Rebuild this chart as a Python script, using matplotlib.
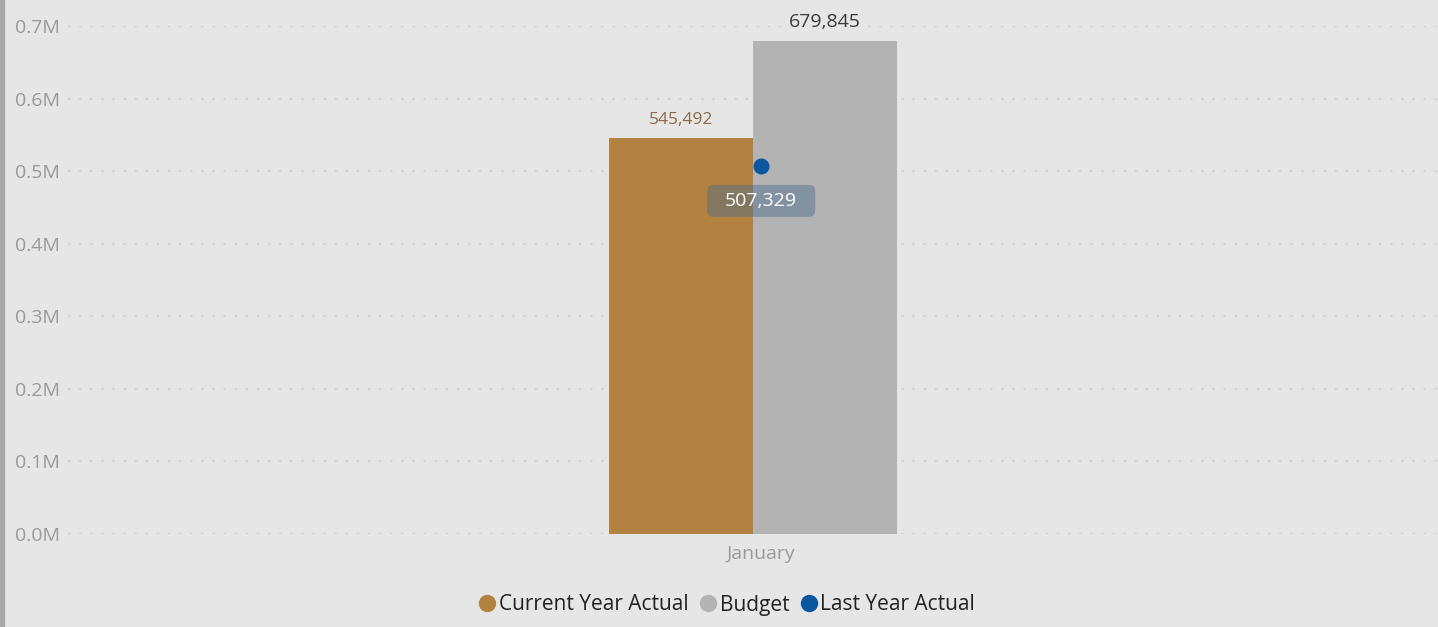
import matplotlib
matplotlib.use("Agg")
import matplotlib.pyplot as plt
import matplotlib.transforms as mtransforms
from matplotlib.patches import Rectangle, FancyBboxPatch
from matplotlib.lines import Line2D
from matplotlib.ticker import FuncFormatter, MultipleLocator

# Monthly revenue summary
months = ["January"]
current_year_actual = [545492]
budget = [679845]
last_year_actual = [507329]
series_names = ["Current Year Actual", "Budget", "Last Year Actual"]

c_current = "#B38240"
c_budget = "#B3B3B3"
c_last = "#0A57A0"
bg = "#E6E6E6"

plt.rcParams["font.family"] = ["Open Sans", "DejaVu Sans"]

W, H = 1438, 627
fig = plt.figure(figsize=(W / 100, H / 100), dpi=100, facecolor=bg)
ax = fig.add_axes([68 / W, 1 - 534 / H, (W - 68) / W, (534 - 26) / H])
ax.set_facecolor(bg)

x = list(range(len(months)))
w = 0.1053
line_shift = 0.006
bars_cur = ax.bar([i - w / 2 for i in x], current_year_actual, width=w, color=c_current, zorder=2)
bars_bud = ax.bar([i + w / 2 for i in x], budget, width=w, color=c_budget, zorder=2)
ax.plot([i + line_shift for i in x], last_year_actual, linestyle="none", marker="o",
        markersize=10.5, color=c_last, zorder=4)

ax.set_xlim(-0.5, 0.5)
ax.set_ylim(0, 700000)
ax.yaxis.set_major_locator(MultipleLocator(100000))
ax.yaxis.set_major_formatter(FuncFormatter(lambda v, p: f"{v / 1e6:.1f}M"))
ax.grid(axis="y", color="#D0D0D0", linestyle=(0, (1, 4)), linewidth=1.6, zorder=0)
ax.set_axisbelow(True)
for s in ax.spines.values():
    s.set_visible(False)
ax.tick_params(axis="y", length=0, pad=6, labelsize=14, labelcolor="#9A9A9A")
ax.tick_params(axis="x", length=0, pad=8, labelsize=14, labelcolor="#9A9A9A")
ax.set_xticks([i + line_shift for i in x])
ax.set_xticklabels(months)

# value labels
for b, v in zip(bars_cur, current_year_actual):
    ax.annotate(f"{v:,}", (b.get_x() + b.get_width() / 2, v), xytext=(0, 7),
                textcoords="offset points", ha="center", va="bottom",
                fontsize=12.5, color="#8C6B45")
for b, v in zip(bars_bud, budget):
    ax.annotate(f"{v:,}", (b.get_x() + b.get_width() / 2, v), xytext=(0, 7),
                textcoords="offset points", ha="center", va="bottom",
                fontsize=14, color="#3A3A3A")
for i, v in zip(x, last_year_actual):
    # label box placed below the marker, sized in inches from the point
    trans = fig.dpi_scale_trans + mtransforms.ScaledTranslation(i + line_shift, v, ax.transData)
    box = FancyBboxPatch((-0.52, -0.49), 1.04, 0.28,
                         boxstyle="round,pad=0.02,rounding_size=0.06",
                         transform=trans, fc=(0.29, 0.42, 0.55, 0.45), ec="none", zorder=5)
    ax.add_patch(box)
    ax.text(0, -0.35, f"{v:,}", transform=trans, ha="center", va="center",
            fontsize=14, color="white", zorder=6)

# left border strip
fig.add_artist(Rectangle((0, 0), 4 / W, 1, transform=fig.transFigure,
                         color="#A9A9A9", zorder=10))

handles = [
    Line2D([], [], linestyle="none", marker="o", markersize=11.5, color=c_current),
    Line2D([], [], linestyle="none", marker="o", markersize=11.5, color=c_budget),
    Line2D([], [], linestyle="none", marker="o", markersize=11.5, color=c_last),
]
fig.legend(handles, series_names, loc="center", bbox_to_anchor=(726 / W, 1 - 605 / H),
           ncol=3, frameon=False, fontsize=15, handletextpad=0.05, columnspacing=0.45,
           labelcolor="#222222", handlelength=1.0)

fig.savefig("out.png", dpi=100, facecolor=bg)
